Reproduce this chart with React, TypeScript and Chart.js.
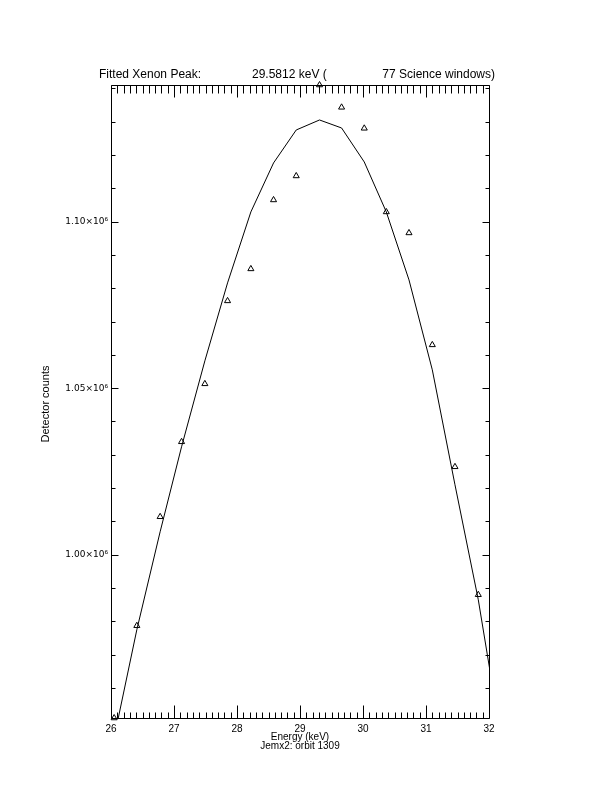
import React, { useEffect, useRef } from "react";
import { Chart, registerables } from "chart.js";

Chart.register(...registerables);

// Fitted curve (keV, counts)
const fitEnergy = [26.05, 26.41, 26.78, 27.12, 27.49, 27.85, 28.22, 28.58, 28.94, 29.31, 29.66, 30.02, 30.37, 30.73, 31.10, 31.46, 31.83, 32.19];
const fitCounts = [945100, 977500, 1006900, 1032400, 1058200, 1081600, 1102900, 1117600, 1127500, 1130500, 1128100, 1117900, 1102900, 1082500, 1055500, 1021000, 986500, 945100];

// Observed points (triangles)
const obsEnergy = [26.05, 26.41, 26.78, 27.12, 27.49, 27.85, 28.22, 28.58, 28.94, 29.31, 29.66, 30.02, 30.37, 30.73, 31.10, 31.46, 31.83];
const obsCounts = [951000, 978700, 1011400, 1033900, 1051300, 1076200, 1085800, 1106500, 1113700, 1141000, 1134300, 1128000, 1102900, 1096600, 1063000, 1026400, 988000];

const xMajor = [26, 27, 28, 29, 30, 31, 32];
const yMajor = [1000000, 1050000, 1100000];
const yMinor = [960000, 970000, 980000, 990000, 1010000, 1020000, 1030000, 1040000, 1060000, 1070000, 1080000, 1090000, 1110000, 1120000, 1130000, 1140000];
const xMin = 26, xMax = 32, yMin = 951000, yMax = 1141000;

const titleParts = ["Fitted Xenon Peak:", "29.5812 keV (", "77 Science windows)"];
const xTitle = "Energy (keV)";
const subTitle = "Jemx2: orbit 1309";
const yTitle = "Detector counts";

const FONT = "'Liberation Sans', Arial, sans-serif";
const FONT_Y = "'DejaVu Sans', sans-serif";

const framePlugin = {
  id: "frame",
  afterDraw(chart: any) {
    const { ctx, chartArea: a, scales } = chart;
    const xs = scales.x, ys = scales.y;
    const L = Math.round(a.left) + 0.5, R = Math.round(a.right) + 0.5;
    const T = Math.round(a.top) + 0.5, B = Math.round(a.bottom) + 0.5;
    ctx.save();
    ctx.strokeStyle = "#000";
    ctx.lineWidth = 1;
    ctx.beginPath();
    ctx.rect(L, T, R - L, B - T);
    // x ticks
    for (let i = 0; i <= 60; i++) {
      const v = xMin + i * 0.1;
      const px = Math.round(xs.getPixelForValue(v)) + 0.5;
      const major = i % 10 === 0;
      const lb = major ? 13 : 6;
      const lt = major ? 12 : 8;
      ctx.moveTo(px, B); ctx.lineTo(px, B - lb);
      ctx.moveTo(px, T); ctx.lineTo(px, T + lt);
    }
    const drawY = (v: number, len: number) => {
      const py = Math.round(ys.getPixelForValue(v)) + 0.5;
      ctx.moveTo(L, py); ctx.lineTo(L + len, py);
      ctx.moveTo(R, py); ctx.lineTo(R - len, py);
    };
    yMajor.forEach((v) => drawY(v, 7));
    yMinor.forEach((v) => drawY(v, 4));
    ctx.stroke();

    ctx.fillStyle = "#000";
    ctx.textBaseline = "middle";
    ctx.font = `12px ${FONT}`;
    ctx.textAlign = "left";
    ctx.fillText(titleParts[0], 99, 75);
    ctx.fillText(titleParts[1], 252, 75);
    ctx.textAlign = "right";
    ctx.fillText(titleParts[2], 495, 75);

    ctx.font = `10px ${FONT}`;
    ctx.textAlign = "center";
    ctx.fillText(xTitle, (a.left + a.right) / 2, 737);
    ctx.fillText(subTitle, (a.left + a.right) / 2, 746);

    ctx.font = `11px ${FONT}`;
    ctx.translate(46, 404);
    ctx.rotate(-Math.PI / 2);
    ctx.fillText(yTitle, 0, 0);
    ctx.restore();
  },
};

export default function App() {
  const ref = useRef<HTMLCanvasElement | null>(null);
  useEffect(() => {
    if (!ref.current) return;
    const chart = new Chart(ref.current, {
      type: "scatter",
      data: {
        datasets: [
          {
            data: fitEnergy.map((x, i) => ({ x, y: fitCounts[i] })),
            showLine: true,
            pointRadius: 0,
            borderColor: "#000",
            borderWidth: 1,
            tension: 0,
          } as any,
          {
            data: obsEnergy.map((x, i) => ({ x, y: obsCounts[i] })),
            showLine: false,
            pointStyle: "triangle",
            pointRadius: 3.5,
            borderColor: "#000",
            backgroundColor: "rgba(0,0,0,0)",
            borderWidth: 1,
            clip: false,
          } as any,
        ],
      },
      options: {
        responsive: false,
        animation: false,
        devicePixelRatio: 1,
        layout: { padding: { left: 0, right: 123, top: 85, bottom: 0 } },
        plugins: { legend: { display: false }, tooltip: { enabled: false }, title: { display: false } },
        scales: {
          x: {
            type: "linear",
            min: xMin,
            max: xMax,
            afterBuildTicks: (s: any) => { s.ticks = xMajor.map((v) => ({ value: v })); },
            afterFit: (s: any) => { s.height = 74; },
            grid: { display: false, drawTicks: false },
            border: { display: false },
            ticks: {
              padding: 5,
              maxRotation: 0,
              color: "#000",
              font: { family: FONT, size: 10 },
              callback: (v: any) => String(v),
            },
          },
          y: {
            type: "linear",
            min: yMin,
            max: yMax,
            afterBuildTicks: (s: any) => { s.ticks = yMajor.map((v) => ({ value: v })); },
            afterFit: (s: any) => { s.width = 111; },
            grid: { display: false, drawTicks: false },
            border: { display: false },
            ticks: {
              padding: 3,
              color: "#000",
              font: { family: FONT_Y, size: 9 },
              callback: (v: any) => (Number(v) / 1e6).toFixed(2) + "×10⁶",
            },
          },
        },
      } as any,
      plugins: [framePlugin],
    });
    return () => chart.destroy();
  }, []);
  return (
    <div style={{ position: "absolute", left: 0, top: 0, width: 612, height: 792, background: "#fff" }}>
      <canvas ref={ref} width={612} height={792} style={{ display: "block" }} />
    </div>
  );
}
